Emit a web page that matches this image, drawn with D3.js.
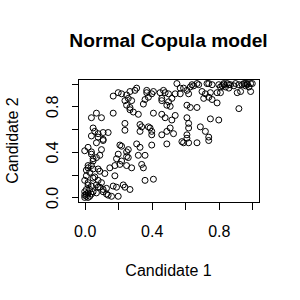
<!DOCTYPE html>
<html>
<head>
<meta charset="utf-8">
<script src="https://cdn.jsdelivr.net/npm/d3@7"></script>
<style>
body { margin: 0; background: #fff; }
text { font-family: "Liberation Sans", Arial, sans-serif; fill: #000; }
</style>
</head>
<body>
<script>
// Layout
var width = 300;
var height = 300;
var plotLeft = 78;
var plotTop = 79;
var plotWidth = 181;
var plotHeight = 123;

// Data
var title = 'Normal Copula model';
var xLabel = 'Candidate 1';
var yLabel = 'Candidate 2';
var tickValues = [0, 0.2, 0.4, 0.6, 0.8, 1.0];
var tickLabels = ['0.0', '', '0.4', '', '0.8', ''];

var candidate1 = [
    0.00, 0.01, 0.00, 0.02, 0.01, 0.03, 0.00, 0.02, 0.04, 0.01, 0.03, 0.05, 0.02, 0.04,
    0.02, 0.01, 0.03, 0.02, 0.04, 0.05, 0.07, 0.04, 0.09, 0.06, 0.08, 0.10, 0.08, 0.11,
    0.07, 0.13, 0.17, 0.19, 0.16, 0.20, 0.24, 0.27, 0.18, 0.15, 0.18, 0.21, 0.25, 0.28,
    0.19, 0.22, 0.26, 0.20, 0.25, 0.22, 0.32, 0.02, 0.07, 0.11, 0.00, 0.01, 0.05, 0.08,
    0.09, 0.12, 0.05, 0.00, 0.07, 0.09, 0.13, 0.23, 0.36, 0.41, 0.11, 0.14, 0.04, 0.10,
    0.05, 0.02,
    0.33, 0.40, 0.49, 0.59, 0.62, 0.36, 0.34, 0.35, 0.21, 0.26, 0.31, 0.25, 0.67, 0.74,
    0.04, 0.07, 0.10, 0.17, 0.24, 0.24, 0.05, 0.06, 0.04, 0.08, 0.11, 0.14, 0.08, 0.11,
    0.17, 0.20, 0.22, 0.25, 0.27, 0.30, 0.31, 0.24, 0.25, 0.27, 0.29, 0.26, 0.28, 0.27,
    0.35, 0.36, 0.38, 0.37, 0.41, 0.41, 0.46, 0.33, 0.33, 0.38, 0.40, 0.46, 0.32,
    0.37, 0.40, 0.45, 0.48, 0.50, 0.55, 0.57, 0.59, 0.61, 0.63, 0.65, 0.46, 0.50, 0.49,
    0.51, 0.61, 0.63, 0.48, 0.52, 0.61, 0.62, 0.62, 0.34, 0.39, 0.40, 0.49, 0.51, 0.61,
    0.47, 0.64, 0.68, 0.62, 0.57, 0.54, 0.46, 0.52, 0.75, 0.80, 0.69, 0.72, 0.74, 0.58,
    0.61, 0.54, 0.53,
    0.67, 0.73, 0.76, 0.81, 0.83, 0.85, 0.87, 0.90, 0.95, 0.97, 0.99, 0.94, 0.70, 0.72,
    0.75, 0.79, 0.81, 0.91, 0.93, 0.99, 0.71, 0.74, 0.76, 0.79, 0.92, 0.67,
    0.82, 0.84, 0.83, 0.86, 0.80, 0.96, 0.97, 1.00, 0.98, 0.96, 0.86, 0.89, 0.92, 0.74
];

var candidate2 = [
    0.00, 0.01, 0.02, 0.00, 0.03, 0.01, 0.05, 0.04, 0.03, 0.07, 0.07, 0.05, 0.11, 0.10,
    0.13, 0.19, 0.22, 0.26, 0.28, 0.32, 0.35, 0.38, 0.37, 0.18, 0.15, 0.13, 0.09, 0.07,
    0.04, 0.03, 0.10, 0.09, 0.01, 0.01, 0.09, 0.07, 0.19, 0.26, 0.28, 0.29, 0.28, 0.26,
    0.34, 0.32, 0.35, 0.38, 0.40, 0.45, 0.37, 0.44, 0.48, 0.50, 0.41, 0.24, 0.25, 0.25,
    0.23, 0.21, 0.17, 0.15, 0.11, 0.09, 0.08, 0.11, 0.15, 0.16, 0.05, 0.02, 0.40, 0.42,
    0.34, 0.28,
    0.44, 0.46, 0.47, 0.48, 0.48, 0.37, 0.29, 0.26, 0.46, 0.42, 0.47, 0.36, 0.48, 0.50,
    0.70, 0.74, 0.70, 0.74, 0.65, 0.59, 0.61, 0.58, 0.54, 0.56, 0.57, 0.57, 0.53, 0.51,
    0.89, 0.92, 0.91, 0.90, 0.93, 0.94, 0.96, 0.85, 0.81, 0.77, 0.75, 0.87, 0.85, 0.79,
    0.82, 0.86, 0.88, 0.94, 0.93, 0.74, 0.73, 0.64, 0.58, 0.62, 0.55, 0.55, 0.73,
    0.92, 0.91, 0.92, 0.92, 0.91, 1.00, 0.96, 0.96, 0.94, 0.97, 0.98, 0.85, 0.84, 0.81,
    0.80, 0.81, 0.79, 0.70, 0.68, 0.70, 0.65, 0.61, 0.62, 0.61, 0.58, 0.58, 0.61, 0.55,
    0.94, 0.99, 0.99, 0.91, 0.91, 0.91, 0.87, 0.87, 0.69, 0.68, 0.62, 0.58, 0.53, 0.49,
    0.52, 0.72, 0.56,
    1.00, 1.00, 0.99, 0.97, 0.99, 1.00, 0.99, 1.00, 1.00, 1.00, 1.00, 0.99, 0.93, 0.91,
    0.92, 0.92, 0.92, 0.92, 0.93, 0.93, 0.87, 0.88, 0.86, 0.83, 0.78, 0.79,
    0.98, 0.97, 1.00, 0.99, 0.99, 0.98, 0.99, 1.00, 0.97, 1.00, 0.96, 0.98, 0.99, 1.00
];

function onload() {
    var svg = d3.select('body')
        .append('svg')
        .attr('width', width)
        .attr('height', height);

    // R-style 4% padding around the data range
    var x = d3.scaleLinear()
        .domain([-0.04, 1.04])
        .range([plotLeft, plotLeft + plotWidth]);
    var y = d3.scaleLinear()
        .domain([-0.04, 1.04])
        .range([plotTop + plotHeight, plotTop]);

    var points = candidate1.map(function(d, i) { return [d, candidate2[i]]; });

    svg.append('g')
        .selectAll('circle')
        .data(points)
        .enter()
        .append('circle')
        .attr('cx', function(d) { return x(d[0]); })
        .attr('cy', function(d) { return y(d[1]); })
        .attr('r', 3)
        .attr('fill', 'none')
        .attr('stroke', '#000')
        .attr('stroke-width', 1);

    // box
    svg.append('rect')
        .attr('x', plotLeft + 0.5)
        .attr('y', plotTop + 0.5)
        .attr('width', plotWidth)
        .attr('height', plotHeight)
        .attr('fill', 'none')
        .attr('stroke', '#000')
        .attr('stroke-width', 1)
        .attr('shape-rendering', 'crispEdges');

    var xAxis = d3.axisBottom(x)
        .tickValues(tickValues)
        .tickSize(7)
        .tickFormat(function(d, i) { return tickLabels[i]; });

    var gx = svg.append('g')
        .attr('transform', 'translate(0,' + (plotTop + plotHeight + 0.5) + ')')
        .call(xAxis);
    gx.select('.domain').remove();
    gx.selectAll('line').attr('shape-rendering', 'crispEdges');
    gx.selectAll('text')
        .attr('y', 23)
        .attr('font-size', '16px')
        .attr('font-family', '"Liberation Sans", Arial, sans-serif')
        .attr('fill', '#000');

    var yAxis = d3.axisLeft(y)
        .tickValues(tickValues)
        .tickSize(7)
        .tickFormat(function(d, i) { return tickLabels[i]; });

    var gy = svg.append('g')
        .attr('transform', 'translate(' + (plotLeft + 0.5) + ',0)')
        .call(yAxis);
    gy.select('.domain').remove();
    gy.selectAll('line').attr('shape-rendering', 'crispEdges');
    gy.selectAll('text')
        .attr('x', 0)
        .attr('y', 0)
        .attr('dy', 0)
        .attr('text-anchor', 'middle')
        .attr('transform', 'translate(-21,0) rotate(-90)')
        .attr('font-size', '16px')
        .attr('font-family', '"Liberation Sans", Arial, sans-serif')
        .attr('fill', '#000');

    svg.append('text')
        .attr('x', plotLeft + plotWidth / 2)
        .attr('y', 47)
        .attr('text-anchor', 'middle')
        .attr('font-size', '19.2px')
        .attr('font-weight', 'bold')
        .text(title);

    svg.append('text')
        .attr('x', plotLeft + plotWidth / 2)
        .attr('y', 276)
        .attr('text-anchor', 'middle')
        .attr('font-size', '16px')
        .text(xLabel);

    svg.append('text')
        .attr('transform', 'translate(18,' + (plotTop + plotHeight / 2) + ') rotate(-90)')
        .attr('text-anchor', 'middle')
        .attr('font-size', '16px')
        .text(yLabel);
}

onload();
</script>
</body>
</html>
